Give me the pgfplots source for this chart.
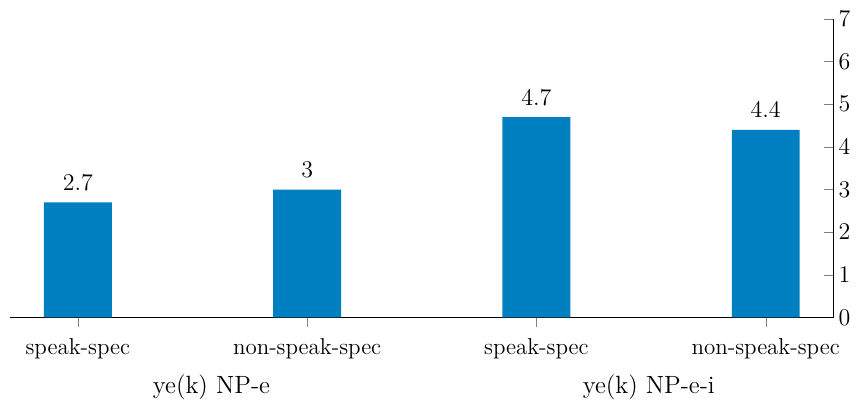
\documentclass[border=0pt]{standalone}
\usepackage{pgfplots}
\pgfplotsset{compat=1.18}
\definecolor{barblue}{RGB}{0,128,192}
\begin{document}
\begin{tikzpicture}
\path (-5pt,-43pt) rectangle (423.5pt,159pt);
\begin{axis}[
  scale only axis,
  width=412.5pt, height=149.5pt,
  font=\fontsize{11.5}{13}\selectfont,
  axis x line*=bottom, axis y line*=right,
  xmin=-0.296, xmax=3.296,
  ymin=0, ymax=7,
  ytick={0,1,...,7},
  xtick=data,
  xticklabels={speak-spec,non-speak-spec,speak-spec,non-speak-spec},
  xtick align=outside, ytick align=inside,
  major tick length=5pt,
  tick style={gray},
  ybar, bar width=34pt,
  nodes near coords,
  every node near coord/.append style={font=\fontsize{12}{13}\selectfont, yshift=2.5pt},
  clip=false,
  xticklabel style={yshift=-2pt},
  yticklabel style={xshift=-1pt},
]
\addplot[fill=barblue, draw=none] coordinates {(0,2.7) (1,3) (2,4.7) (3,4.4)};
\node[font=\fontsize{12.5}{14}\selectfont] at (axis cs:0.583,0) [yshift=-35pt] {ye(k) NP-e};
\node[font=\fontsize{12.5}{14}\selectfont] at (axis cs:2.49,0) [yshift=-35pt] {ye(k) NP-e-i};
\end{axis}
\end{tikzpicture}
\end{document}
